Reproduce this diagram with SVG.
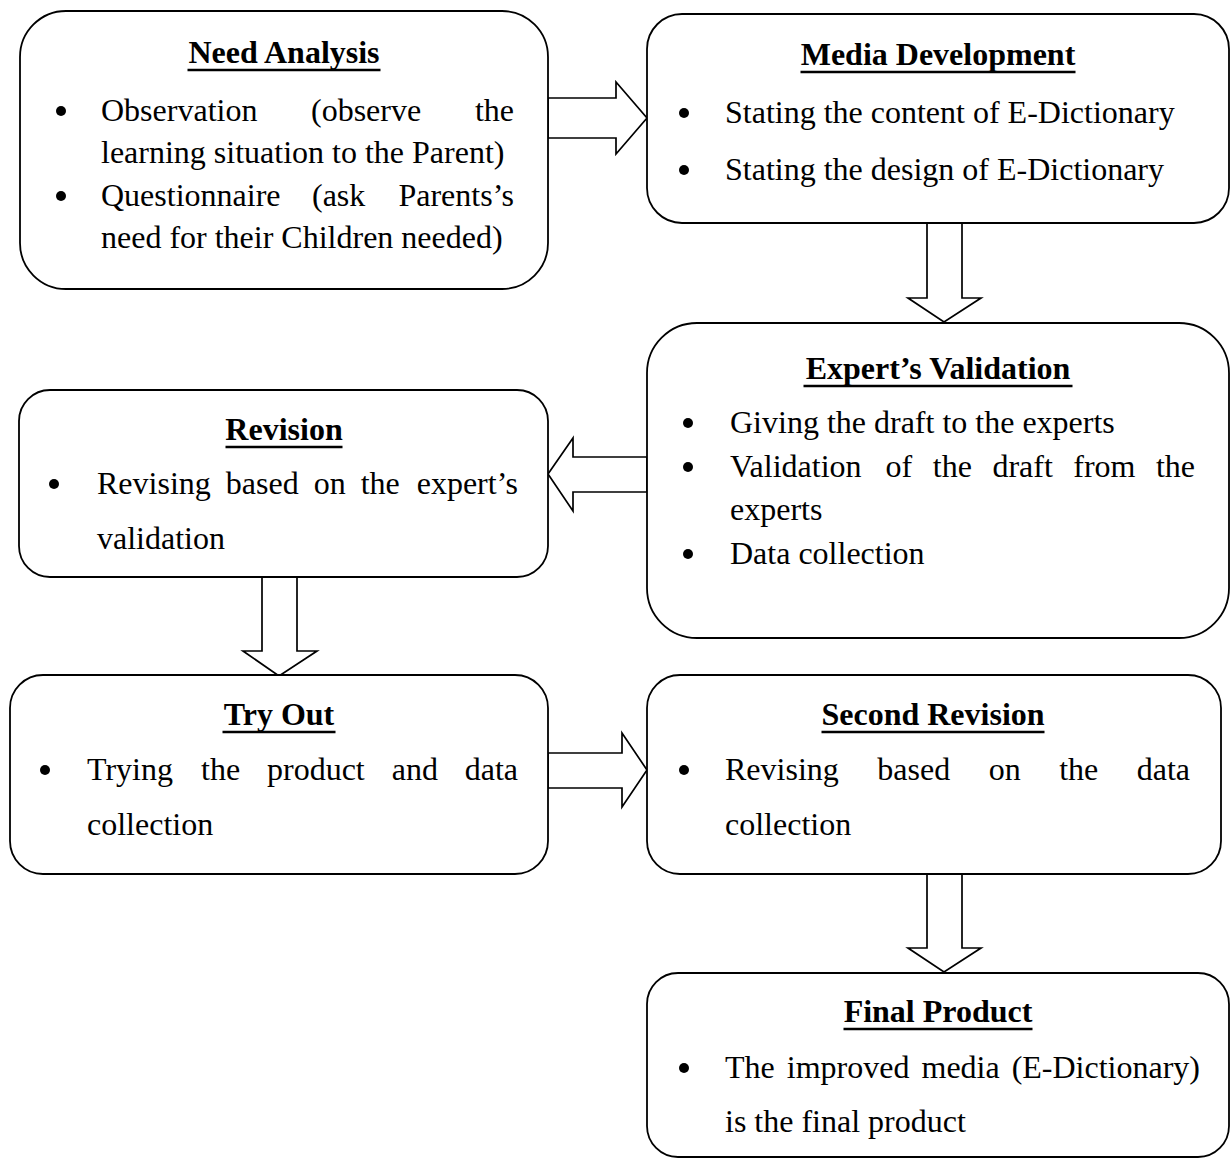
<svg xmlns="http://www.w3.org/2000/svg" width="1231" height="1159" viewBox="0 0 1231 1159">
<style>
.box{fill:#fff;stroke:#000;stroke-width:1.8}
.arr{fill:#fff;stroke:#000;stroke-width:1.7;stroke-linejoin:miter}
text{font-family:"Liberation Serif","Times New Roman",serif;font-size:32px;fill:#000}
.t{font-weight:bold;text-anchor:middle}
.u{stroke:#000;stroke-width:2.6}
.e{text-anchor:end}
.b{fill:#000}
</style>
<rect width="1231" height="1159" fill="#fff"/>
<g id="connectors">
<polygon class="arr" points="548,98 616,98 616,82 647,118 616,154 616,138 548,138"/>
<polygon class="arr" points="927,223 962,223 962,298 981,298 944,322 908,298 927,298"/>
<polygon class="arr" points="647,457 573,457 573,438 548,474 573,511 573,492 647,492"/>
<polygon class="arr" points="262,577 297,577 297,651 317,651 279,676 243,651 262,651"/>
<polygon class="arr" points="548,753 622,753 622,733 647,770 622,807 622,788 548,788"/>
<polygon class="arr" points="927,874 962,874 962,948 981,948 944,972 908,948 927,948"/>
</g>
<g id="need-analysis">
<rect class="box" x="20" y="11" width="528" height="278" rx="46" ry="46"/>
<text class="t" x="284" y="63">Need Analysis</text>
<line class="u" x1="187.5" y1="70" x2="380.5" y2="70"/>
<circle class="b" cx="61" cy="111" r="5"/>
<text x="101" y="121">Observation</text>
<text x="311" y="121">(observe</text>
<text class="e" x="514" y="121">the</text>
<text x="101" y="163">learning situation to the Parent)</text>
<circle class="b" cx="61" cy="196" r="5"/>
<text x="101" y="206">Questionnaire</text>
<text x="312" y="206">(ask</text>
<text class="e" x="514" y="206">Parents’s</text>
<text x="101" y="248">need for their Children needed)</text>
</g>
<g id="media-development">
<rect class="box" x="647" y="14" width="582" height="209" rx="35" ry="35"/>
<text class="t" x="938" y="65">Media Development</text>
<line class="u" x1="800.5" y1="72" x2="1075.5" y2="72"/>
<circle class="b" cx="684" cy="113" r="5"/>
<text x="725" y="123">Stating the content of E-Dictionary</text>
<circle class="b" cx="684" cy="170" r="5"/>
<text x="725" y="180">Stating the design of E-Dictionary</text>
</g>
<g id="experts-validation">
<rect class="box" x="647" y="323" width="582" height="315" rx="50" ry="50"/>
<text class="t" x="938" y="379">Expert’s Validation</text>
<line class="u" x1="803.5" y1="386" x2="1072.5" y2="386"/>
<circle class="b" cx="688" cy="423" r="5"/>
<text x="730" y="433">Giving the draft to the experts</text>
<circle class="b" cx="688" cy="467" r="5"/>
<text x="730" y="477">Validation</text>
<text x="885.6" y="477">of</text>
<text x="932.8" y="477">the</text>
<text x="992.4" y="477">draft</text>
<text x="1073.3" y="477">from</text>
<text class="e" x="1195" y="477">the</text>
<text x="730" y="520">experts</text>
<circle class="b" cx="688" cy="554" r="5"/>
<text x="730" y="564">Data collection</text>
</g>
<g id="revision">
<rect class="box" x="19" y="390" width="529" height="187" rx="31" ry="31"/>
<text class="t" x="284" y="440">Revision</text>
<line class="u" x1="225.5" y1="447" x2="342.5" y2="447"/>
<circle class="b" cx="54" cy="484" r="5"/>
<text x="97" y="494">Revising</text>
<text x="225.8" y="494">based</text>
<text x="313.7" y="494">on</text>
<text x="360.7" y="494">the</text>
<text class="e" x="518" y="494">expert’s</text>
<text x="97" y="549">validation</text>
</g>
<g id="try-out">
<rect class="box" x="10" y="675" width="538" height="199" rx="33" ry="33"/>
<text class="t" x="279" y="725">Try Out</text>
<line class="u" x1="222.5" y1="732" x2="335.5" y2="732"/>
<circle class="b" cx="45" cy="770" r="5"/>
<text x="87" y="780">Trying</text>
<text x="201" y="780">the</text>
<text x="267" y="780">product</text>
<text x="391.7" y="780">and</text>
<text class="e" x="518" y="780">data</text>
<text x="87" y="835">collection</text>
</g>
<g id="second-revision">
<rect class="box" x="647" y="675" width="574" height="199" rx="33" ry="33"/>
<text class="t" x="933" y="725">Second Revision</text>
<line class="u" x1="821.5" y1="732" x2="1044.5" y2="732"/>
<circle class="b" cx="684" cy="770" r="5"/>
<text x="725" y="780">Revising</text>
<text x="877.3" y="780">based</text>
<text x="988.7" y="780">on</text>
<text x="1059.2" y="780">the</text>
<text class="e" x="1190" y="780">data</text>
<text x="725" y="835">collection</text>
</g>
<g id="final-product">
<rect class="box" x="647" y="973" width="582" height="184" rx="31" ry="31"/>
<text class="t" x="938" y="1022">Final Product</text>
<line class="u" x1="843.5" y1="1029" x2="1032.5" y2="1029"/>
<circle class="b" cx="684" cy="1068" r="5"/>
<text x="725" y="1078">The</text>
<text x="786.8" y="1078">improved</text>
<text x="921.5" y="1078">media</text>
<text class="e" x="1200" y="1078">(E-Dictionary)</text>
<text x="725" y="1132">is the final product</text>
</g>
</svg>
